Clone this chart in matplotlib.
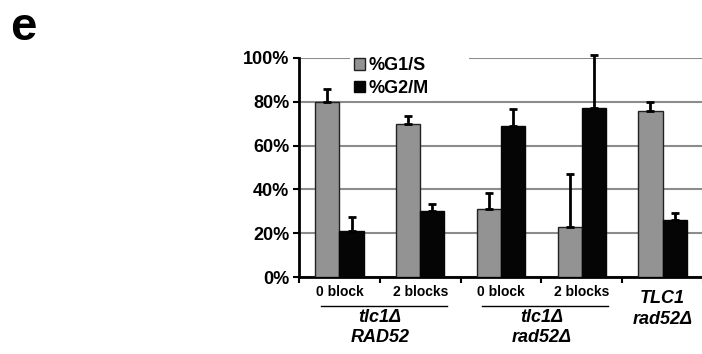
import numpy as np
import matplotlib
matplotlib.use('Agg')
import matplotlib.pyplot as plt
from matplotlib.patches import Patch, Rectangle

plt.rcParams['font.family'] = ['Liberation Sans', 'DejaVu Sans']

# data
block_labels = ['0 block', '2 blocks', '0 block', '2 blocks', '']
g1s = [80, 70, 31, 23, 76]
g1s_err = [6, 3.5, 7.5, 24, 4]
g2m = [21, 30, 69, 77, 26]
g2m_err = [6.5, 3.5, 7.5, 24.5, 3]
yticks = [0, 20, 40, 60, 80, 100]

fig = plt.figure(figsize=(7.02, 3.54), dpi=100)
ax = fig.add_axes([299 / 702, 1 - 277 / 354, 404 / 702, 219 / 354])

x = np.arange(len(g1s))
w = 0.3
ekw = dict(elinewidth=2, capthick=2, ecolor='black')
b1 = ax.bar(x - w / 2, g1s, w, color='#939393', edgecolor='#222222', linewidth=1,
            yerr=[np.zeros(5), g1s_err], capsize=3, error_kw=ekw, zorder=3)
b2 = ax.bar(x + w / 2, g2m, w, color='#050505', edgecolor='#050505', linewidth=1,
            yerr=[np.zeros(5), g2m_err], capsize=3, error_kw=ekw, zorder=3)
# let the tall error bar run past 100%
for b in (b1, b2):
    for art in b.errorbar.get_children():
        art.set_clip_on(False)

ax.set_xlim(-0.5, 4.5)
ax.set_ylim(0, 100)
ax.set_yticks(yticks)
ax.set_yticklabels([f'{v}%' for v in yticks], fontsize=13, fontweight='bold')
ax.yaxis.grid(True, color='#8c8c8c', linewidth=1.5, zorder=0)
ax.set_axisbelow(True)
for s in ['top', 'right']:
    ax.spines[s].set_visible(False)
ax.spines['left'].set_linewidth(2)
ax.spines['bottom'].set_linewidth(2)
ax.tick_params(axis='y', length=4, width=1.5, direction='out', pad=3)

ax.set_xticks(np.arange(-0.5, 5, 1))
ax.set_xticklabels([])
ax.tick_params(axis='x', length=4, width=1.5, direction='out')

tr = ax.get_xaxis_transform()
for i, lab in enumerate(block_labels):
    ax.text(i, -0.068, lab, transform=tr, ha='center', va='center',
            fontsize=10, fontweight='bold')

# group annotations
groups = [(0.5, 'tlc1Δ', 'RAD52'), (2.5, 'tlc1Δ', 'rad52Δ')]
for cx, l1, l2 in groups:
    ax.plot([cx - 0.73, cx + 0.83], [-0.132, -0.132], transform=tr,
            color='black', linewidth=1, clip_on=False)
    ax.text(cx, -0.187, l1, transform=tr, ha='center', va='center',
            fontsize=13, fontweight='bold', fontstyle='italic')
    ax.text(cx, -0.277, l2, transform=tr, ha='center', va='center',
            fontsize=13, fontweight='bold', fontstyle='italic')
ax.text(4, -0.098, 'TLC1', transform=tr, ha='center', va='center',
        fontsize=13, fontweight='bold', fontstyle='italic')
ax.text(4, -0.196, 'rad52Δ', transform=tr, ha='center', va='center',
        fontsize=13, fontweight='bold', fontstyle='italic')

# white box behind the legend hides part of the 100% gridline
ax.add_patch(Rectangle((0.13, 0.95), 0.29, 0.1, transform=ax.transAxes,
                       facecolor='white', edgecolor='none', zorder=4,
                       clip_on=False))

handles = [Patch(facecolor='#939393', edgecolor='#222222', label='%G1/S'),
           Patch(facecolor='#050505', edgecolor='#050505', label='%G2/M')]
leg = ax.legend(handles=handles, loc='upper left', bbox_to_anchor=(0.105, 1.06),
                frameon=True, framealpha=1, edgecolor='none', facecolor='white',
                fancybox=False, handlelength=0.6, handleheight=0.6,
                handletextpad=0.2, labelspacing=0.3, borderpad=0.2,
                prop={'size': 13, 'weight': 'bold'})
leg.set_zorder(5)

fig.text(23 / 702, 1 - 28 / 354, 'e', fontsize=34, fontweight='bold',
         ha='center', va='center')

fig.savefig('out.png', dpi=100)
